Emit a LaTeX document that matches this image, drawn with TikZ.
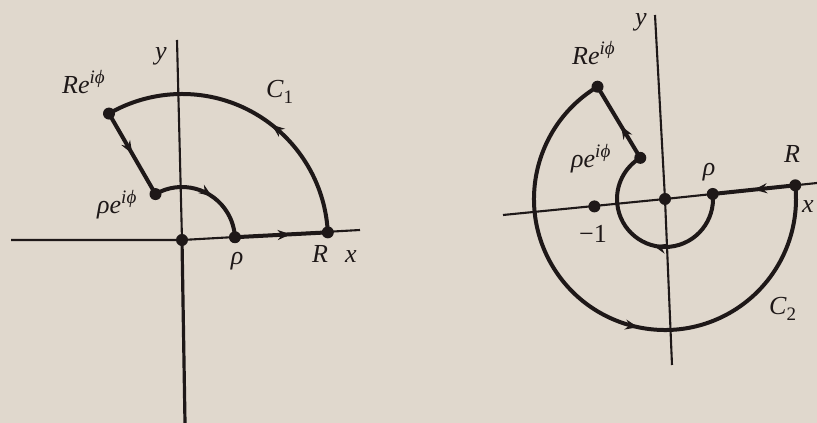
\documentclass[tikz,border=0pt]{standalone}
\usepackage{fontspec}
\setmainfont{Liberation Serif}
\usetikzlibrary{arrows.meta,decorations.markings}
\definecolor{paper}{RGB}{224,216,205}
\definecolor{ink}{RGB}{30,24,24}
\newcommand\upx[1]{\raisebox{0.40em}{\fontsize{19}{22}\selectfont #1}}
\newcommand\dnx[1]{\raisebox{-0.22em}{\fontsize{19}{22}\selectfont\upshape #1}}
\tikzset{
  dot/.style={circle,fill=ink,inner sep=0pt,minimum size=12pt},
  axis/.style={draw=ink,line width=2.1pt},
  axisthick/.style={draw=ink,line width=3.2pt},
  contour/.style={draw=ink,line width=4pt},
  lbl/.style={text=ink,font=\fontsize{26}{30}\selectfont\itshape,inner sep=0pt},
  midarrow/.style={postaction={decorate},decoration={markings,
    mark=at position #1 with {\arrow[ink]{Stealth[length=13pt,width=10pt]}}}},
}
\begin{document}
\begin{tikzpicture}[x=1pt,y=1pt]
\fill[paper] (0,0) rectangle (817,423);
\useasboundingbox (0,0) rectangle (817,423);

% ---------------- left figure ----------------
\begin{scope}[shift={(182,183)},rotate=3]
  \node[dot] (O1) at (0,0) {};
  \node[dot] (r1) at (0:53) {};
  \node[dot] (R1) at (0:146) {};
  \node[dot] (Rp1) at (117:146) {};
  \node[dot] (rp1) at (117:53) {};
\end{scope}
\coordinate (x1w) at (11,183);
\coordinate (x1e) at (360,193);
\coordinate (y1n) at (177,383);
\coordinate (y1s) at (185,0);
\draw[axis] (x1w) -- (O1.center) -- (x1e);
\draw[axis] (O1.center) -- (y1n);
\draw[axisthick] (O1.center) -- (y1s);
\begin{scope}[shift={(182,183)},rotate=3]
  \draw[contour,midarrow=0.6] (r1.center) -- (R1.center);
  \draw[contour,midarrow=0.42] (R1.center) arc[start angle=0,end angle=117,radius=146];
  \draw[contour,midarrow=0.5] (Rp1.center) -- (rp1.center);
  \draw[contour,midarrow=0.55] (rp1.center) arc[start angle=117,end angle=0,radius=53];
\end{scope}

\node[lbl,anchor=base] (ly1) at (161,363) {y};
\node[lbl,anchor=base west] (lRp1) at (62,329) {Re\upx{iϕ}};
\node[lbl,anchor=base west] (lrp1) at (97,209) {ρe\upx{iϕ}};
\node[lbl,anchor=base west] (lC1) at (266,325) {C\dnx{1}};
\node[lbl,anchor=base] (lr1) at (237,158) {ρ};
\node[lbl,anchor=base west] (lR1) at (312,160) {R};
\node[lbl,anchor=base west] (lx1) at (345,160) {x};

% ---------------- right figure ----------------
\begin{scope}[shift={(665,224)},rotate=6]
  \node[dot] (O2) at (0,0) {};
  \node[dot] (m1) at (180:71) {};
  \node[dot] (r2) at (0:48) {};
  \node[dot] (R2) at (0:131) {};
  \node[dot] (Rp2) at (115:131) {};
  \node[dot] (rp2) at (115:48) {};
\end{scope}
\coordinate (x2w) at (503,208);
\coordinate (x2e) at (817,240);
\coordinate (y2n) at (655,408);
\coordinate (y2s) at (672,58);
\draw[axis] (x2w) -- (O2.center) -- (x2e);
\draw[axis] (y2s) -- (O2.center) -- (y2n);
\begin{scope}[shift={(665,224)},rotate=6]
  \draw[contour,midarrow=0.5] (R2.center) -- (r2.center);
  \draw[contour,midarrow=0.45] (r2.center) arc[start angle=0,end angle=-245,radius=48];
  \draw[contour,midarrow=0.45] (rp2.center) -- (Rp2.center);
  \draw[contour,midarrow=0.56] (Rp2.center) arc[start angle=115,end angle=360,radius=131];
\end{scope}

\node[lbl,anchor=base] (ly2) at (641,397) {y};
\node[lbl,anchor=base west] (lRp2) at (572,358) {Re\upx{iϕ}};
\node[lbl,anchor=base west] (lrp2) at (571,255) {ρe\upx{iϕ}};
\node[lbl,anchor=base] (lr2) at (709,247) {ρ};
\node[lbl,anchor=base west] (lR2) at (784,260) {R};
\node[lbl,anchor=base west] (lx2) at (802,210) {x};
\node[lbl,anchor=base west] (lm1) at (579,180) {\upshape −1};
\node[lbl,anchor=base west] (lC2) at (769,108) {C\dnx{2}};
\end{tikzpicture}
\end{document}
